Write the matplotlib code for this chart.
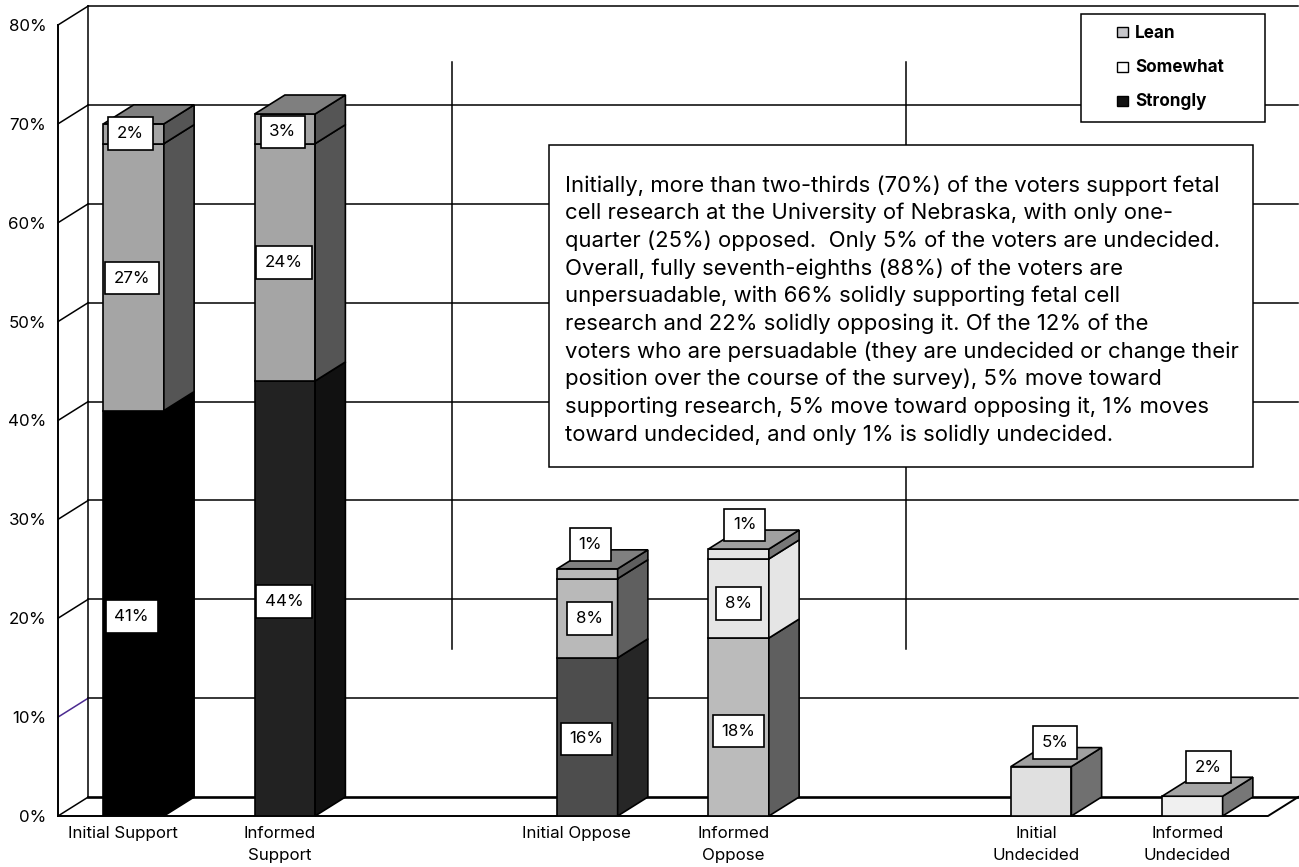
import matplotlib
matplotlib.use("Agg")
import matplotlib.pyplot as plt
from matplotlib.patches import Polygon, Rectangle

plt.rcParams['font.family'] = ['Inter', 'Liberation Sans', 'DejaVu Sans']

categories = ["Initial Support", "Informed\nSupport", "Initial Oppose",
              "Informed\nOppose", "Initial\nUndecided", "Informed\nUndecided"]
positions = [0, 1, 3, 4, 6, 7]
strongly = [41, 44, 16, 18, 0, 0]
somewhat = [27, 24, 8, 8, 0, 0]
lean = [2, 3, 1, 1, 5, 2]
y_ticks = [0, 10, 20, 30, 40, 50, 60, 70, 80]
y_labels = ["0%", "10%", "20%", "30%", "40%", "50%", "60%", "70%", "80%"]

# front / side colours for each stack segment
strong_front = ["#000000", "#222222", "#4d4d4d", "#bbbbbb", "#ffffff", "#ffffff"]
strong_side = ["#000000", "#111111", "#262626", "#5f5f5f", "#ffffff", "#ffffff"]
some_front = ["#a5a5a5", "#a5a5a5", "#b9b9b9", "#e5e5e5", "#ffffff", "#ffffff"]
some_side = ["#555555", "#555555", "#5f5f5f", "#e5e5e5", "#ffffff", "#ffffff"]
lean_front = ["#a5a5a5", "#a5a5a5", "#b9b9b9", "#e5e5e5", "#e0e0e0", "#f0f0f0"]
lean_side = ["#555555", "#555555", "#5f5f5f", "#777777", "#707070", "#777777"]
cap_color = ["#7f7f7f", "#7f7f7f", "#808080", "#a0a0a0", "#a0a0a0", "#a5a5a5"]

# label offsets from segment middle, in pixels
strong_off = [(-2, -3), (-1, -3), (-1, -2), (0, -4), (0, 0), (0, 0)]
some_off = [(-2, -1), (-1, 0), (2, 0), (0, -5), (0, 0), (0, 0)]
lean_off = [(-3, 0), (-2, -3), (3, 29), (6, 29), (14, 49), (16, 39)]
tick_shift = [-0.07, -0.035, -0.07, -0.035, -0.035, -0.035]

body = ("Initially, more than two-thirds (70%) of the voters support fetal\n"
        "cell research at the University of Nebraska, with only one-\n"
        "quarter (25%) opposed.  Only 5% of the voters are undecided.\n"
        "Overall, fully seventh-eighths (88%) of the voters are\n"
        "unpersuadable, with 66% solidly supporting fetal cell\n"
        "research and 22% solidly opposing it. Of the 12% of the\n"
        "voters who are persuadable (they are undecided or change their\n"
        "position over the course of the survey), 5% move toward\n"
        "supporting research, 5% move toward opposing it, 1% moves\n"
        "toward undecided, and only 1% is solidly undecided.")

W, H = 1299, 867
width = 0.4
dx, dy = 0.2, 1.92

fig = plt.figure(figsize=(W / 100, H / 100), dpi=100, facecolor="white")
ax = fig.add_axes([58 / W, (H - 816) / H, 1210 / W, 791 / H])
ax.set_xlim(-0.5, 7.5)
ax.set_ylim(0, 80)
for s in ax.spines.values():
    s.set_visible(False)
ax.patch.set_visible(False)

# walls and floor
for t in y_ticks:
    ax.plot([-0.5 + dx, 7.5 + dx], [t + dy, t + dy], color="black",
            lw=1.9 if t == 0 else 1.1, clip_on=False, zorder=1)
    ax.plot([-0.5, -0.5 + dx], [t, t + dy], color="#4b2a90" if t == 10 else "black",
            lw=1.1, clip_on=False, zorder=1)
ax.plot([-0.5, -0.5], [0, 80], color="black", lw=1.4, clip_on=False, zorder=1)
ax.plot([-0.5 + dx, -0.5 + dx], [dy, 80 + dy], color="black", lw=1.1, clip_on=False, zorder=1)
ax.plot([-0.5, 7.5, 7.5 + dx], [0, 0, dy], color="black", lw=1.4, clip_on=False, zorder=1)


def draw_segment(x, bottom, height, front, side):
    ax.bar(x, height, width, bottom=bottom, color=front, edgecolor="black", lw=1.2, zorder=3)
    r = x + width / 2
    ax.add_patch(Polygon([(r, bottom), (r + dx, bottom + dy), (r + dx, bottom + height + dy),
                          (r, bottom + height)], closed=True, facecolor=side,
                         edgecolor="black", lw=1.2, zorder=3, clip_on=False))


def draw_label(x, y, value, off):
    ax.annotate("%d%%" % value, (x, y), xytext=off, textcoords="offset pixels",
                ha="center", va="center", fontsize=12.2, zorder=5, annotation_clip=False,
                bbox=dict(boxstyle="square,pad=0.52", fc="white", ec="black", lw=1.2))


for i, x in enumerate(positions):
    base = 0
    for vals, fr, sd in [(strongly, strong_front, strong_side),
                         (somewhat, some_front, some_side),
                         (lean, lean_front, lean_side)]:
        v = vals[i]
        if v > 0:
            draw_segment(x, base, v, fr[i], sd[i])
            base += v
    l = x - width / 2
    ax.add_patch(Polygon([(l, base), (l + dx, base + dy), (l + width + dx, base + dy),
                          (l + width, base)], closed=True, facecolor=cap_color[i],
                         edgecolor="black", lw=1.2, zorder=3, clip_on=False))
    base = 0
    for vals, off in [(strongly, strong_off), (somewhat, some_off), (lean, lean_off)]:
        v = vals[i]
        if v > 0:
            draw_label(x, base + v / 2, v, off[i])
            base += v

ax.set_yticks(y_ticks, y_labels, fontsize=12.2)
ax.set_xticks([p + s for p, s in zip(positions, tick_shift)], categories,
              fontsize=12.2, linespacing=1.52)
ax.tick_params(axis="both", length=0)
ax.tick_params(axis="y", pad=8.5)
ax.tick_params(axis="x", pad=7.5)

# overlay in pixel coordinates: dividers, note box, legend
ov = fig.add_axes([0, 0, 1, 1], zorder=10)
ov.set_xlim(0, W)
ov.set_ylim(H, 0)
ov.axis("off")
ov.plot([452.5, 452.5], [62, 649], color="black", lw=1.1, zorder=1)
ov.plot([906.5, 906.5], [62, 649], color="black", lw=1.1, zorder=1)

ov.add_patch(Rectangle((549, 145), 704, 322, fc="white", ec="black", lw=1.1, zorder=3))
ov.text(565, 310, body, ha="left", va="center", fontsize=15.9, linespacing=1.435, zorder=4)

ov.add_patch(Rectangle((1081, 14), 184, 108, fc="white", ec="black", lw=1.1, zorder=3))
legend_names = ["Lean", "Somewhat", "Strongly"]
legend_colors = ["#c6c6ca", "#ffffff", "#111111"]
for name, c, y in zip(legend_names, legend_colors, [33, 68, 102]):
    ov.add_patch(Rectangle((1117, y - 6), 11, 10, fc=c, ec="black", lw=1.0, zorder=4))
    ov.text(1135, y, name, ha="left", va="center", fontsize=12.3, fontweight="bold", zorder=4)

fig.savefig("out.png", dpi=100)
